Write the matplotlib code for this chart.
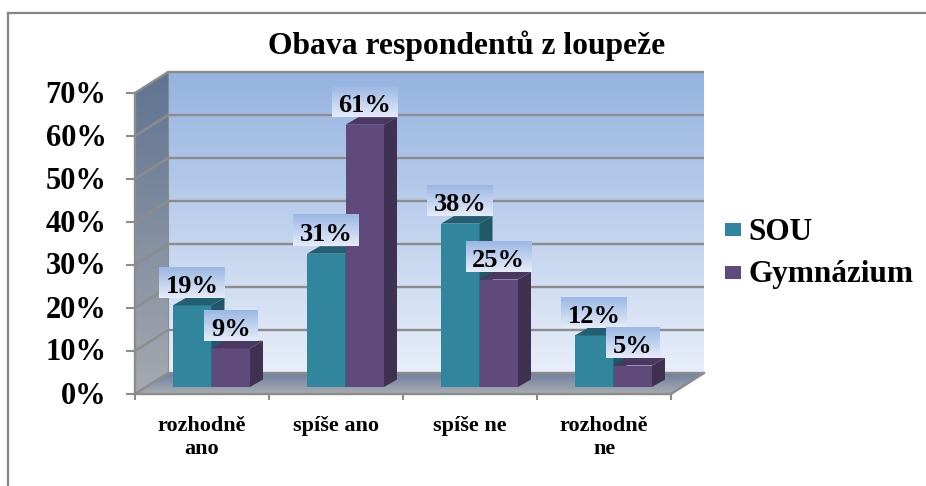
import numpy as np
import matplotlib
matplotlib.use('Agg')
import matplotlib.pyplot as plt
from matplotlib.colors import LinearSegmentedColormap
from matplotlib.patches import Polygon, Rectangle
from matplotlib.transforms import ScaledTranslation

categories = ['rozhodně\nano', 'spíše ano', 'spíše ne', 'rozhodně\nne']
series_names = ['SOU', 'Gymnázium']
sou_values = [19, 31, 38, 12]
gymnazium_values = [9, 61, 25, 5]
percent_ticks = [0, 10, 20, 30, 40, 50, 60, 70]

plt.rcParams['font.family'] = ['Liberation Serif', 'DejaVu Serif']
plt.rcParams['font.weight'] = 'bold'

fig_w, fig_h = 926, 486
figure = plt.figure(figsize=(fig_w / 100, fig_h / 100), dpi=100)

# Front plane of the fake 3D plot, in pixels of the picture
left_px, right_px, top_px, bottom_px = 135, 671, 93, 394
axes = figure.add_axes([left_px / fig_w, 1 - bottom_px / fig_h,
                        (right_px - left_px) / fig_w, (bottom_px - top_px) / fig_h])
x_max, y_max = len(categories), percent_ticks[-1]
px_x = x_max / (right_px - left_px)
px_y = y_max / (bottom_px - top_px)

# Depth offsets, converted to data units
wall_dx, wall_dy = 33 * px_x, 21 * px_y
bar_shift_x, bar_shift_y = 9.5 * px_x, 7 * px_y
side_dx, side_dy = 13 * px_x, 7.5 * px_y
bar_width = 38.5 * px_x

grid_color = '#8c8c8c'


def gradient_fill(corners, top_color, bottom_color, zorder):
    # Vertical gradient clipped to a polygon
    corners = np.array(corners)
    colormap = LinearSegmentedColormap.from_list('fill', [bottom_color, top_color])
    image = axes.imshow(np.linspace(1, 0, 128).reshape(-1, 1), cmap=colormap, aspect='auto',
                        extent=(corners[:, 0].min(), corners[:, 0].max(),
                                corners[:, 1].min(), corners[:, 1].max()),
                        zorder=zorder)
    outline = Polygon(corners, closed=True, transform=axes.transData, fill=False, edgecolor='none')
    axes.add_patch(outline)
    outline.set_clip_on(False)
    image.set_clip_box(figure.bbox)
    image.set_clip_path(outline)


# Walls and floor
gradient_fill([(wall_dx, wall_dy), (x_max + wall_dx, wall_dy),
               (x_max + wall_dx, y_max + wall_dy), (wall_dx, y_max + wall_dy)],
              '#95b3e0', '#e8eef9', 1)
gradient_fill([(0, 0), (wall_dx, wall_dy), (wall_dx, y_max + wall_dy), (0, y_max)],
              '#5f7391', '#a6a9af', 1)
gradient_fill([(0, 0), (x_max, 0), (x_max + wall_dx, wall_dy), (wall_dx, wall_dy)],
              '#6f80a0', '#a9acb1', 1)

# Gridlines run along the side wall and then the back wall
for tick in percent_ticks:
    axes.plot([0, wall_dx, x_max + wall_dx], [tick, tick + wall_dy, tick + wall_dy],
              color=grid_color, lw=1.7, zorder=2, clip_on=False, solid_capstyle='butt')
axes.plot([wall_dx, wall_dx], [wall_dy, y_max + wall_dy], color=grid_color, lw=0.8, zorder=2, clip_on=False)
axes.plot([x_max, x_max + wall_dx], [0, wall_dy], color=grid_color, lw=1.7, zorder=2, clip_on=False)


def draw_bars(values, offset, front_color, top_color, side_color):
    positions = np.arange(len(values)) + 0.5 + bar_shift_x + offset
    axes.bar(positions, values, width=bar_width, bottom=bar_shift_y, color=front_color, zorder=3, clip_on=False)
    for position, value in zip(positions, values):
        x0, x1 = position - bar_width / 2, position + bar_width / 2
        y0, y1 = bar_shift_y, bar_shift_y + value
        axes.add_patch(Polygon([(x0, y1), (x1, y1), (x1 + side_dx, y1 + side_dy), (x0 + side_dx, y1 + side_dy)],
                               facecolor=top_color, zorder=3, clip_on=False))
        axes.add_patch(Polygon([(x1, y0), (x1 + side_dx, y0 + side_dy), (x1 + side_dx, y1 + side_dy), (x1, y1)],
                               facecolor=side_color, zorder=3, clip_on=False))
    return positions


sou_positions = draw_bars(sou_values, -bar_width / 2, '#31859c', '#235f70', '#215868')
gymnazium_positions = draw_bars(gymnazium_values, bar_width / 2, '#604a7b', '#4a3860', '#3f3151')


def value_label(position, value, zorder):
    # Label box with its own gradient, sitting at the back edge of the bar top
    box_w = (66 if value >= 10 else 54) * px_x
    box_h = 31 * px_y
    y0 = bar_shift_y + value + side_dy
    colormap = LinearSegmentedColormap.from_list('label', ['#e6ecf8', '#9bb7e4'])
    axes.imshow(np.linspace(1, 0, 64).reshape(-1, 1), cmap=colormap, aspect='auto',
                extent=(position - box_w / 2, position + box_w / 2, y0, y0 + box_h),
                zorder=zorder, clip_on=False)
    axes.text(position, y0 + box_h * 0.38, f'{value}%', ha='center', va='center',
              fontsize=19, color='black', zorder=zorder + 0.1)


order = 4
for index in range(len(categories)):
    value_label(sou_positions[index], sou_values[index], order)
    value_label(gymnazium_positions[index], gymnazium_values[index], order + 0.2)
    order += 0.4

# Axes
axes.set_xlim(0, x_max)
axes.set_ylim(0, y_max)
axes.patch.set_visible(False)
for side in ['top', 'right']:
    axes.spines[side].set_visible(False)
for side in ['left', 'bottom']:
    axes.spines[side].set_color(grid_color)
    axes.spines[side].set_linewidth(1.7)
    axes.spines[side].set_zorder(2.5)
axes.set_yticks(percent_ticks)
axes.set_yticklabels([f'{tick}%' for tick in percent_ticks], fontsize=22)
axes.tick_params(axis='y', length=6.5, width=1.5, color=grid_color, pad=14)
shift_up = ScaledTranslation(0, 1.5 / 100, figure.dpi_scale_trans)
for label in axes.get_yticklabels():
    label.set_transform(label.get_transform() + shift_up)
axes.set_xticks(np.arange(x_max) + 0.5)
axes.set_xticklabels(categories, fontsize=16, linespacing=1.25)
axes.set_xticks(np.arange(x_max + 1), minor=True)
axes.tick_params(axis='x', which='major', length=0, pad=15.5)
axes.tick_params(axis='x', which='minor', length=4.5, width=1.5, color=grid_color)

# Title
figure.text(467 / fig_w, 1 - 46 / fig_h, 'Obava respondentů z loupeže', ha='center', va='center',
            fontsize=22.8, color='black')

# Legend
legend_colors = ['#31859c', '#604a7b']
legend_rows = [230, 272.5]
for name, color, row in zip(series_names, legend_colors, legend_rows):
    figure.patches.append(Rectangle((725 / fig_w, 1 - (row + 6.5) / fig_h), 16 / fig_w, 13 / fig_h,
                                    transform=figure.transFigure, facecolor=color, edgecolor='none'))
    figure.text(748 / fig_w, 1 - (row + 2) / fig_h, name, ha='left', va='center', fontsize=22.5, color='black')

# Picture frame: only top and left edges are visible
frame_color = '#858585'
figure.add_artist(plt.Line2D([8 / fig_w, 1], [1 - 13 / fig_h, 1 - 13 / fig_h], color=frame_color, lw=1.6,
                             transform=figure.transFigure))
figure.add_artist(plt.Line2D([8 / fig_w, 8 / fig_w], [0, 1 - 13 / fig_h], color=frame_color, lw=1.6,
                             transform=figure.transFigure))

figure.savefig('out.png', dpi=100)
